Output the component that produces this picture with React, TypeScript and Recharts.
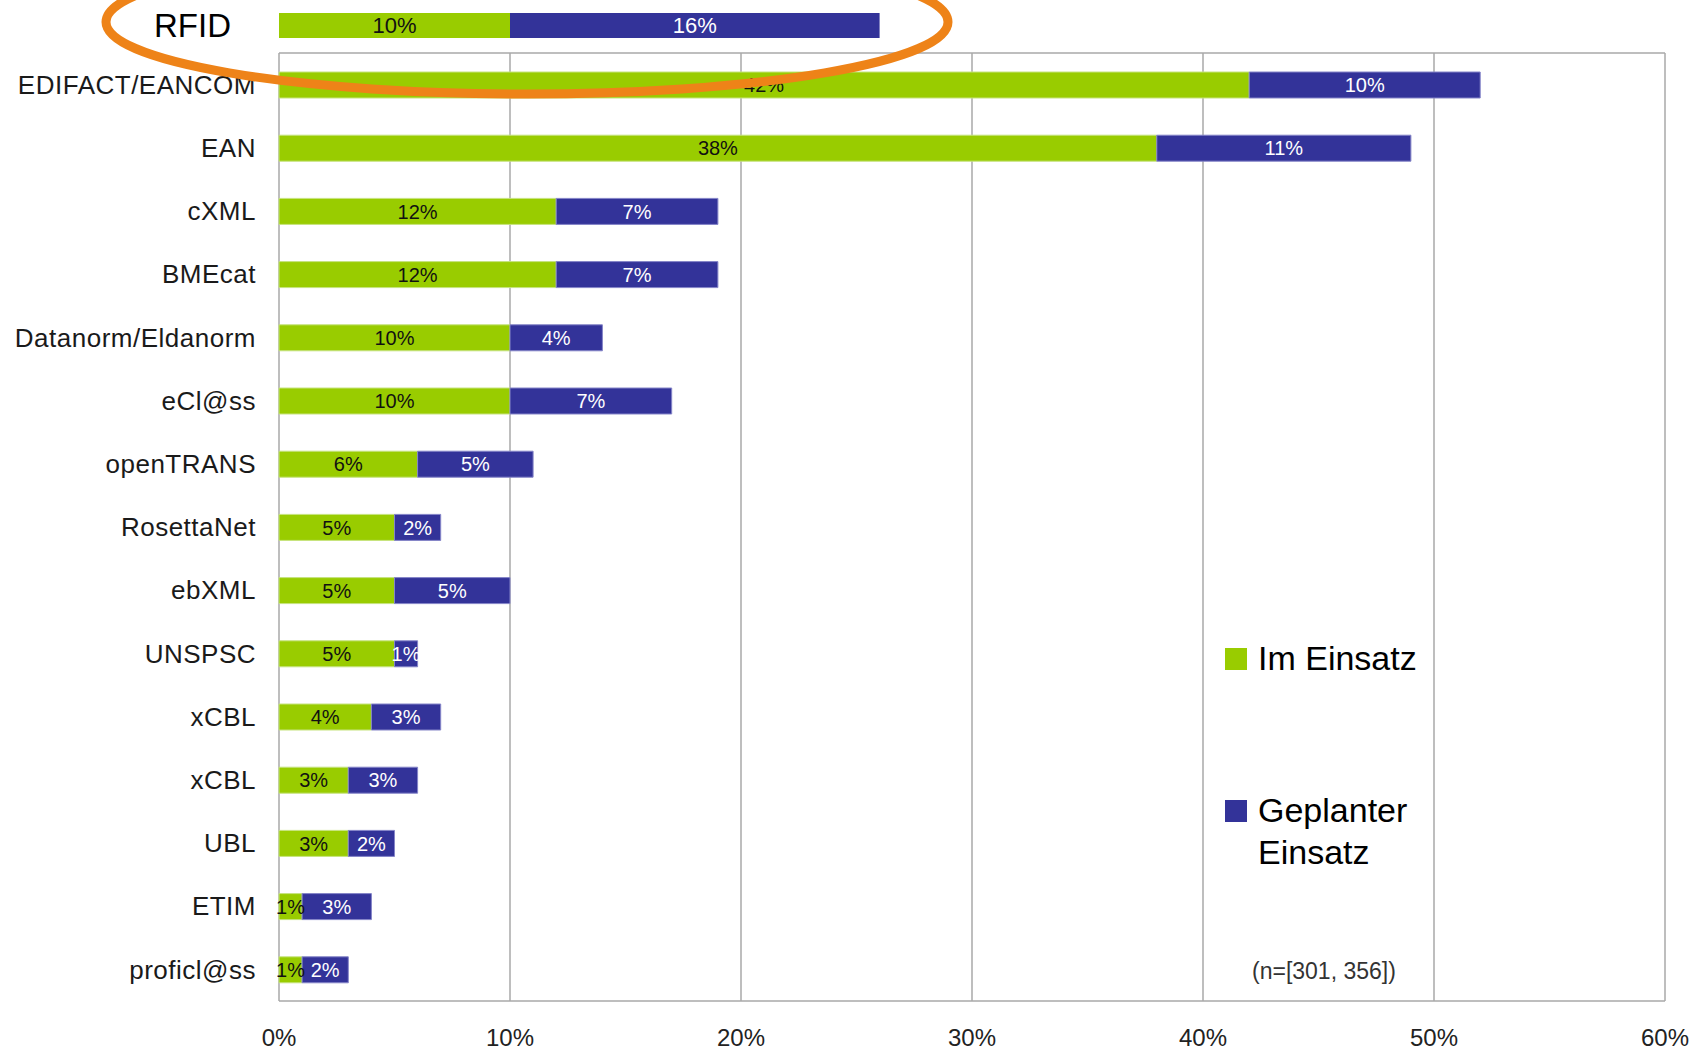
import React from "react";
import { Bar, BarChart, CartesianGrid, LabelList, Legend, XAxis, YAxis } from "recharts";

const FONT = "'Liberation Sans', Arial, sans-serif";

// main chart
const categories = [
    "EDIFACT/EANCOM",
    "EAN",
    "cXML",
    "BMEcat",
    "Datanorm/Eldanorm",
    "eCl@ss",
    "openTRANS",
    "RosettaNet",
    "ebXML",
    "UNSPSC",
    "xCBL",
    "xCBL",
    "UBL",
    "ETIM",
    "proficl@ss",
];
const imEinsatz = [42, 38, 12, 12, 10, 10, 6, 5, 5, 5, 4, 3, 3, 1, 1];
const geplanterEinsatz = [10, 11, 7, 7, 4, 7, 5, 2, 5, 1, 3, 3, 2, 3, 2];
const seriesNames = ["Im Einsatz", "Geplanter Einsatz"];

// highlighted row above the chart
const rfidCategories = ["RFID"];
const rfidIm = [10];
const rfidGeplant = [16];

const xTicks = [0, 10, 20, 30, 40, 50, 60];
const sampleNote = "(n=[301, 356])";

const GREEN = "#99CC00";
const BLUE = "#333399";

const data = categories.map((name, i) => ({
    name,
    im: imEinsatz[i],
    geplant: geplanterEinsatz[i],
}));

const rfidData = rfidCategories.map((name, i) => ({
    name,
    im: rfidIm[i],
    geplant: rfidGeplant[i],
}));

const pct = (v: any) => `${v}%`;

const LegendBox = ({ payload }: any) => {
    // keep the series order (recharts reverses it for vertical layouts)
    const items = [...(payload || [])].sort(
        (a: any, b: any) => seriesNames.indexOf(a.value) - seriesNames.indexOf(b.value)
    );
    return (
        <div style={{ fontFamily: FONT, fontSize: 34, color: "#000", width: 220 }}>
            {items.map((entry: any, i: number) => (
                <div
                    key={`leg-${i}`}
                    style={{
                        display: "flex",
                        alignItems: "flex-start",
                        marginBottom: i === 0 ? 110 : 0,
                    }}
                >
                    <span
                        style={{
                            display: "inline-block",
                            width: 22,
                            height: 22,
                            background: entry.color,
                            marginTop: 11,
                            marginRight: 11,
                            flex: "none",
                        }}
                    ></span>
                    <span style={{ width: 180, lineHeight: "42px" }}>{entry.value}</span>
                </div>
            ))}
        </div>
    );
};

export default function App() {
    return (
        <div
            style={{
                position: "absolute",
                left: 0,
                top: 0,
                width: 1692,
                height: 1052,
                background: "#fff",
                fontFamily: FONT,
                overflow: "hidden",
            }}
        >
            <BarChart
                width={1692}
                height={1052}
                data={data}
                layout="vertical"
                margin={{ top: 53, right: 27, bottom: 0, left: 0 }}
                barSize={26}
            >
                <CartesianGrid
                    stroke="#a8a8a8"
                    strokeWidth={1.5}
                    horizontalCoordinatesGenerator={({ offset }: any) => [
                        offset.top,
                        offset.top + offset.height,
                    ]}
                />
                <XAxis
                    type="number"
                    domain={[0, 60]}
                    ticks={xTicks}
                    interval={0}
                    tickFormatter={pct}
                    axisLine={false}
                    tickLine={false}
                    tickSize={0}
                    tickMargin={28}
                    height={51}
                    tick={{ fontSize: 24, fill: "#222", fontFamily: FONT }}
                />
                <YAxis
                    type="category"
                    dataKey="name"
                    width={279}
                    interval={0}
                    axisLine={false}
                    tickLine={false}
                    tickSize={0}
                    tickMargin={23}
                    tick={{ fontSize: 26, fill: "#1a1a1a", fontFamily: FONT, letterSpacing: 0.5 }}
                />
                <Bar
                    dataKey="im"
                    name={seriesNames[0]}
                    stackId="a"
                    fill={GREEN}
                    stroke="#c6e37f"
                    strokeWidth={1}
                    isAnimationActive={false}
                >
                    <LabelList
                        dataKey="im"
                        position="center"
                        formatter={pct}
                        fill="#111"
                        fontSize={20}
                        fontFamily={FONT}
                    />
                </Bar>
                <Bar
                    dataKey="geplant"
                    name={seriesNames[1]}
                    stackId="a"
                    fill={BLUE}
                    stroke="#8585c8"
                    strokeWidth={1}
                    isAnimationActive={false}
                >
                    <LabelList
                        dataKey="geplant"
                        position="center"
                        formatter={pct}
                        fill="#fff"
                        fontSize={20}
                        fontFamily={FONT}
                    />
                </Bar>
                <Legend
                    layout="vertical"
                    align="center"
                    verticalAlign="middle"
                    content={<LegendBox />}
                    wrapperStyle={{ left: 1225, top: 636.5 }}
                />
            </BarChart>

            <div style={{ position: "absolute", left: 0, top: 0 }}>
                <BarChart
                    width={1692}
                    height={50}
                    data={rfidData}
                    layout="vertical"
                    margin={{ top: 0, right: 27, bottom: 0, left: 0 }}
                    barSize={25}
                >
                    <XAxis type="number" domain={[0, 60]} hide />
                    <YAxis
                        type="category"
                        dataKey="name"
                        width={279}
                        axisLine={false}
                        tickLine={false}
                        tickSize={0}
                        tickMargin={48}
                        tick={{ fontSize: 33, fill: "#000", fontFamily: FONT }}
                    />
                    <Bar dataKey="im" stackId="r" fill={GREEN} isAnimationActive={false}>
                        <LabelList
                            dataKey="im"
                            position="center"
                            formatter={pct}
                            fill="#111"
                            fontSize={22}
                            fontFamily={FONT}
                        />
                    </Bar>
                    <Bar dataKey="geplant" stackId="r" fill={BLUE} isAnimationActive={false}>
                        <LabelList
                            dataKey="geplant"
                            position="center"
                            formatter={pct}
                            fill="#fff"
                            fontSize={22}
                            fontFamily={FONT}
                        />
                    </Bar>
                </BarChart>
            </div>

            <div
                style={{
                    position: "absolute",
                    left: 1252,
                    top: 960,
                    fontSize: 23,
                    lineHeight: "23px",
                    color: "#333",
                    whiteSpace: "nowrap",
                }}
            >
                {sampleNote}
            </div>

            {/* orange highlight ring around the RFID row */}
            <svg
                width={1692}
                height={1052}
                style={{ position: "absolute", left: 0, top: 0, pointerEvents: "none" }}
            >
                <ellipse cx={527} cy={22} rx={421} ry={72} fill="none" stroke="#EE8318" strokeWidth={9} />
            </svg>
        </div>
    );
}
